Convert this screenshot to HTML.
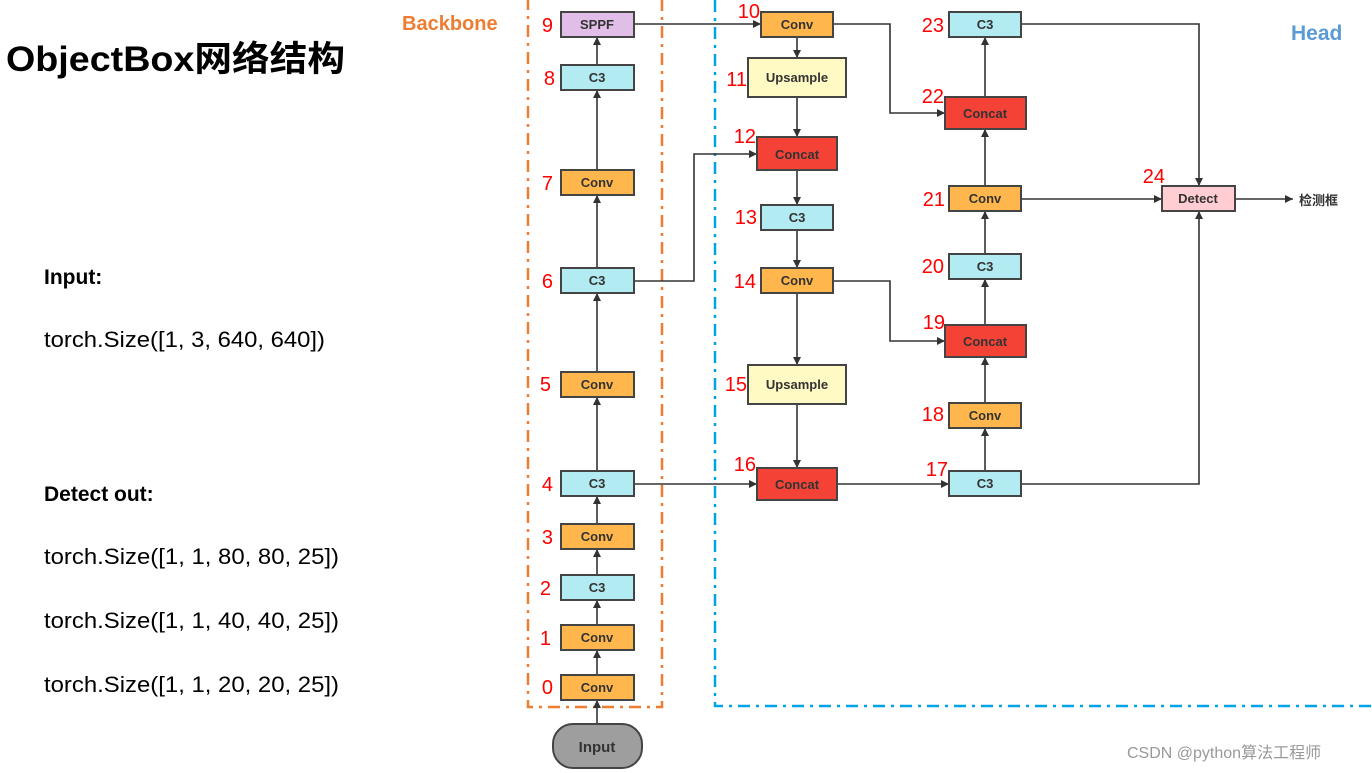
<!DOCTYPE html>
<html><head><meta charset="utf-8"><style>
html,body{margin:0;padding:0;background:#fff;}
svg{display:block;}
</style></head><body>
<svg width="1372" height="773" viewBox="0 0 1372 773" xmlns="http://www.w3.org/2000/svg" font-family="Liberation Sans, Noto Sans CJK SC, sans-serif">
<defs>
<marker id="a" viewBox="0 0 10 10" refX="10" refY="5" markerWidth="10" markerHeight="8" markerUnits="userSpaceOnUse" orient="auto"><path d="M0,0 L10,5 L0,10 z" fill="#333"/></marker>
</defs>
<!-- left text -->
<text x="6" y="71" font-size="35" font-weight="bold" textLength="339" lengthAdjust="spacingAndGlyphs">ObjectBox网络结构</text>
<text x="44" y="284" font-size="21" font-weight="bold">Input:</text>
<text x="44" y="347" font-size="22" textLength="281" lengthAdjust="spacingAndGlyphs">torch.Size([1, 3, 640, 640])</text>
<text x="44" y="501" font-size="21" font-weight="bold">Detect out:</text>
<text x="44" y="564" font-size="22" textLength="295" lengthAdjust="spacingAndGlyphs">torch.Size([1, 1, 80, 80, 25])</text>
<text x="44" y="628" font-size="22" textLength="295" lengthAdjust="spacingAndGlyphs">torch.Size([1, 1, 40, 40, 25])</text>
<text x="44" y="692" font-size="22" textLength="295" lengthAdjust="spacingAndGlyphs">torch.Size([1, 1, 20, 20, 25])</text>

<!-- group frames -->
<rect x="528" y="-2" width="134" height="709" fill="none" stroke="#ed7d31" stroke-width="2.5" stroke-dasharray="12,6,3,6"/>
<path d="M715,0 V706 H1372" fill="none" stroke="#00a2e8" stroke-width="2.5" stroke-dasharray="12,6,3,6"/>
<text x="402" y="30" font-size="20" font-weight="bold" fill="#ed7d31">Backbone</text>
<text x="1291" y="40" font-size="21" font-weight="bold" fill="#5b9bd5">Head</text>

<!-- connectors -->
<g stroke="#333" stroke-width="1.6" fill="none" marker-end="url(#a)">
<path d="M597,724 V700"/>
<path d="M597,675 V650"/>
<path d="M597,625 V600"/>
<path d="M597,575 V549"/>
<path d="M597,524 V496"/>
<path d="M597,471 V397"/>
<path d="M597,372 V293"/>
<path d="M597,268 V195"/>
<path d="M597,170 V90"/>
<path d="M597,65 V37"/>
<path d="M634,24 H761"/>
<path d="M833,24 H890 V113 H945"/>
<path d="M797,37 V58"/>
<path d="M797,97 V137"/>
<path d="M634,281 H694 V154 H757"/>
<path d="M797,170 V205"/>
<path d="M797,230 V268"/>
<path d="M833,281 H890 V341 H945"/>
<path d="M797,293 V365"/>
<path d="M797,404 V468"/>
<path d="M634,484 H757"/>
<path d="M837,484 H949"/>
<path d="M985,471 V428"/>
<path d="M985,403 V357"/>
<path d="M985,325 V279"/>
<path d="M985,254 V211"/>
<path d="M985,186 V129"/>
<path d="M985,97 V37"/>
<path d="M1021,24 H1199 V186"/>
<path d="M1021,199 H1162"/>
<path d="M1021,484 H1199 V211"/>
<path d="M1235,199 H1293"/>
</g>

<!-- nodes -->
<g stroke="#444" stroke-width="2" font-size="13" font-weight="bold" fill="#333">
<rect x="561" y="12" width="73" height="25" fill="#e1bee7"/>
<rect x="561" y="65" width="73" height="25" fill="#b2ebf2"/>
<rect x="561" y="170" width="73" height="25" fill="#ffb74d"/>
<rect x="561" y="268" width="73" height="25" fill="#b2ebf2"/>
<rect x="561" y="372" width="73" height="25" fill="#ffb74d"/>
<rect x="561" y="471" width="73" height="25" fill="#b2ebf2"/>
<rect x="561" y="524" width="73" height="25" fill="#ffb74d"/>
<rect x="561" y="575" width="73" height="25" fill="#b2ebf2"/>
<rect x="561" y="625" width="73" height="25" fill="#ffb74d"/>
<rect x="561" y="675" width="73" height="25" fill="#ffb74d"/>
<rect x="553" y="724" width="89" height="44" rx="20" fill="#9e9e9e"/>
<rect x="761" y="12" width="72" height="25" fill="#ffb74d"/>
<rect x="748" y="58" width="98" height="39" fill="#fff9c4"/>
<rect x="757" y="137" width="80" height="33" fill="#f44336"/>
<rect x="761" y="205" width="72" height="25" fill="#b2ebf2"/>
<rect x="761" y="268" width="72" height="25" fill="#ffb74d"/>
<rect x="748" y="365" width="98" height="39" fill="#fff9c4"/>
<rect x="757" y="468" width="80" height="32" fill="#f44336"/>
<rect x="949" y="12" width="72" height="25" fill="#b2ebf2"/>
<rect x="945" y="97" width="81" height="32" fill="#f44336"/>
<rect x="949" y="186" width="72" height="25" fill="#ffb74d"/>
<rect x="949" y="254" width="72" height="25" fill="#b2ebf2"/>
<rect x="945" y="325" width="81" height="32" fill="#f44336"/>
<rect x="949" y="403" width="72" height="25" fill="#ffb74d"/>
<rect x="949" y="471" width="72" height="25" fill="#b2ebf2"/>
<rect x="1162" y="186" width="73" height="25" fill="#ffcdd2"/>
</g>
<g font-size="13" font-weight="bold" fill="#333" text-anchor="middle">
<text x="597" y="29">SPPF</text>
<text x="597" y="82">C3</text>
<text x="597" y="187">Conv</text>
<text x="597" y="285">C3</text>
<text x="597" y="389">Conv</text>
<text x="597" y="488">C3</text>
<text x="597" y="541">Conv</text>
<text x="597" y="592">C3</text>
<text x="597" y="642">Conv</text>
<text x="597" y="692">Conv</text>
<text x="597" y="752" font-size="15">Input</text>
<text x="797" y="29">Conv</text>
<text x="797" y="82">Upsample</text>
<text x="797" y="159">Concat</text>
<text x="797" y="222">C3</text>
<text x="797" y="285">Conv</text>
<text x="797" y="389">Upsample</text>
<text x="797" y="489">Concat</text>
<text x="985" y="29">C3</text>
<text x="985" y="118">Concat</text>
<text x="985" y="203">Conv</text>
<text x="985" y="271">C3</text>
<text x="985" y="346">Concat</text>
<text x="985" y="420">Conv</text>
<text x="985" y="488">C3</text>
<text x="1198" y="203">Detect</text>
</g>
<text x="1299" y="205" font-size="13" font-weight="bold" fill="#333">检测框</text>

<!-- red index labels -->
<g font-size="20" fill="#f00" text-anchor="end">
<text x="553" y="32">9</text>
<text x="555" y="85">8</text>
<text x="553" y="190">7</text>
<text x="553" y="288">6</text>
<text x="551" y="391">5</text>
<text x="553" y="491">4</text>
<text x="553" y="544">3</text>
<text x="551" y="595">2</text>
<text x="551" y="645">1</text>
<text x="553" y="694">0</text>
<text x="760" y="18">10</text>
<text x="747" y="86">11</text>
<text x="756" y="143">12</text>
<text x="757" y="224">13</text>
<text x="756" y="288">14</text>
<text x="747" y="391">15</text>
<text x="756" y="471">16</text>
<text x="944" y="32">23</text>
<text x="944" y="103">22</text>
<text x="945" y="206">21</text>
<text x="944" y="273">20</text>
<text x="945" y="329">19</text>
<text x="944" y="421">18</text>
<text x="948" y="476">17</text>
<text x="1165" y="183">24</text>
</g>
<text x="1127" y="758" font-size="16" fill="#999">CSDN @python算法工程师</text>
</svg>
</body></html>
